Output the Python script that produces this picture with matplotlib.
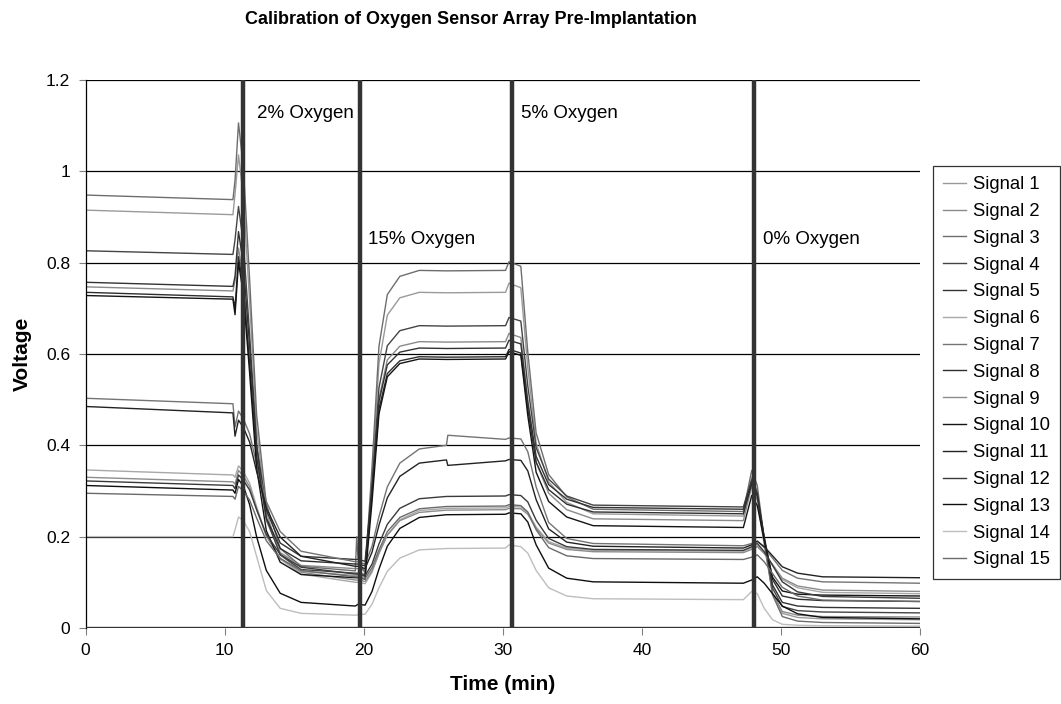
import matplotlib
matplotlib.use("Agg")
import matplotlib.pyplot as plt

plt.rcParams["font.family"] = ["Liberation Sans", "DejaVu Sans"]

# sample times (min) shared by all 15 sensor traces
time_min = [0.0, 10.6, 10.75, 11.0, 11.35, 11.8, 12.3, 13.0, 14.0, 15.5,
            19.4, 19.5, 19.6, 20.1, 20.6, 21.1, 21.7, 22.6, 24.0, 25.95,
            26.05, 30.2, 30.45, 31.3, 31.8, 32.4, 33.3, 34.6, 36.5, 47.3,
            47.9, 48.3, 48.8, 49.4, 50.1, 51.2, 53.0, 60.0]

signal_1 = [0.915, 0.905, 0.95, 1.036, 0.944, 0.714, 0.437, 0.253, 0.161, 0.124,
            0.115, 0.115, 0.115, 0.112, 0.330, 0.579, 0.685, 0.723, 0.735, 0.734,
            0.734, 0.735, 0.755, 0.745, 0.570, 0.405, 0.320, 0.275, 0.250, 0.245,
            0.330, 0.299, 0.190, 0.076, 0.032, 0.023, 0.020, 0.018]
signal_2 = [0.747, 0.738, 0.76, 0.832, 0.762, 0.586, 0.376, 0.235, 0.165, 0.137,
            0.130, 0.130, 0.130, 0.126, 0.301, 0.502, 0.587, 0.617, 0.627, 0.626,
            0.626, 0.627, 0.645, 0.636, 0.496, 0.363, 0.295, 0.259, 0.239, 0.235,
            0.310, 0.281, 0.182, 0.076, 0.036, 0.028, 0.025, 0.024]
signal_3 = [0.948, 0.938, 0.98, 1.106, 1.008, 0.763, 0.468, 0.272, 0.174, 0.135,
            0.125, 0.200, 0.150, 0.120, 0.352, 0.617, 0.730, 0.770, 0.783, 0.782,
            0.782, 0.783, 0.802, 0.792, 0.604, 0.427, 0.336, 0.287, 0.260, 0.255,
            0.345, 0.312, 0.195, 0.072, 0.025, 0.015, 0.012, 0.010]
signal_4 = [0.826, 0.818, 0.85, 0.923, 0.843, 0.642, 0.401, 0.240, 0.160, 0.128,
            0.120, 0.120, 0.120, 0.117, 0.308, 0.526, 0.618, 0.651, 0.662, 0.661,
            0.661, 0.662, 0.680, 0.672, 0.530, 0.395, 0.326, 0.289, 0.269, 0.265,
            0.325, 0.296, 0.194, 0.087, 0.047, 0.038, 0.035, 0.033]
signal_5 = [0.757, 0.748, 0.77, 0.868, 0.796, 0.617, 0.401, 0.258, 0.186, 0.157,
            0.150, 0.150, 0.150, 0.146, 0.309, 0.496, 0.576, 0.604, 0.613, 0.612,
            0.612, 0.613, 0.630, 0.622, 0.495, 0.376, 0.314, 0.282, 0.264, 0.260,
            0.320, 0.292, 0.196, 0.094, 0.056, 0.048, 0.045, 0.043]
signal_6 = [0.346, 0.335, 0.330, 0.355, 0.342, 0.317, 0.266, 0.202, 0.151, 0.118,
            0.100, 0.100, 0.100, 0.097, 0.122, 0.163, 0.204, 0.237, 0.257, 0.262,
            0.262, 0.263, 0.266, 0.265, 0.253, 0.221, 0.189, 0.175, 0.170, 0.168,
            0.175, 0.180, 0.164, 0.138, 0.106, 0.088, 0.078, 0.075]
signal_7 = [0.503, 0.491, 0.440, 0.475, 0.458, 0.425, 0.359, 0.277, 0.211, 0.168,
            0.145, 0.145, 0.145, 0.140, 0.179, 0.244, 0.309, 0.361, 0.392, 0.400,
            0.422, 0.413, 0.416, 0.414, 0.386, 0.309, 0.231, 0.196, 0.185, 0.180,
            0.185, 0.190, 0.176, 0.153, 0.126, 0.109, 0.101, 0.098]
signal_8 = [0.735, 0.725, 0.700, 0.813, 0.746, 0.577, 0.376, 0.241, 0.174, 0.147,
            0.140, 0.140, 0.140, 0.136, 0.296, 0.480, 0.557, 0.585, 0.594, 0.593,
            0.593, 0.594, 0.610, 0.602, 0.479, 0.363, 0.303, 0.271, 0.254, 0.250,
            0.315, 0.289, 0.200, 0.106, 0.070, 0.063, 0.060, 0.058]
signal_9 = [0.330, 0.320, 0.315, 0.345, 0.333, 0.309, 0.261, 0.201, 0.153, 0.122,
            0.105, 0.105, 0.105, 0.102, 0.125, 0.164, 0.203, 0.235, 0.253, 0.258,
            0.258, 0.259, 0.262, 0.261, 0.249, 0.218, 0.186, 0.172, 0.167, 0.165,
            0.172, 0.178, 0.163, 0.139, 0.109, 0.092, 0.083, 0.080]
signal_10 = [0.728, 0.720, 0.686, 0.800, 0.731, 0.558, 0.351, 0.213, 0.144, 0.117,
             0.110, 0.110, 0.110, 0.107, 0.276, 0.469, 0.550, 0.579, 0.589, 0.588,
             0.588, 0.589, 0.605, 0.597, 0.465, 0.341, 0.277, 0.243, 0.224, 0.220,
             0.290, 0.268, 0.192, 0.111, 0.081, 0.074, 0.072, 0.070]
signal_11 = [0.485, 0.471, 0.420, 0.455, 0.439, 0.407, 0.343, 0.263, 0.199, 0.157,
             0.135, 0.135, 0.135, 0.130, 0.166, 0.225, 0.285, 0.332, 0.361, 0.368,
             0.356, 0.366, 0.369, 0.367, 0.344, 0.281, 0.217, 0.188, 0.179, 0.175,
             0.182, 0.190, 0.178, 0.158, 0.134, 0.120, 0.112, 0.110]
signal_12 = [0.322, 0.312, 0.305, 0.335, 0.324, 0.302, 0.259, 0.205, 0.161, 0.133,
             0.118, 0.118, 0.118, 0.114, 0.140, 0.184, 0.227, 0.262, 0.283, 0.288,
             0.288, 0.289, 0.292, 0.290, 0.276, 0.236, 0.196, 0.178, 0.172, 0.170,
             0.178, 0.185, 0.167, 0.137, 0.101, 0.079, 0.069, 0.065]
signal_13 = [0.312, 0.302, 0.295, 0.325, 0.311, 0.270, 0.200, 0.126, 0.076, 0.056,
             0.048, 0.050, 0.052, 0.050, 0.080, 0.129, 0.179, 0.218, 0.242, 0.248,
             0.248, 0.249, 0.252, 0.250, 0.232, 0.182, 0.131, 0.109, 0.101, 0.098,
             0.105, 0.112, 0.098, 0.075, 0.048, 0.031, 0.023, 0.020]
signal_14 = [0.200, 0.200, 0.215, 0.243, 0.235, 0.211, 0.157, 0.082, 0.043, 0.032,
             0.028, 0.028, 0.030, 0.030, 0.052, 0.088, 0.124, 0.153, 0.171, 0.174,
             0.174, 0.175, 0.182, 0.178, 0.164, 0.126, 0.088, 0.070, 0.064, 0.062,
             0.080, 0.075, 0.043, 0.018, 0.008, 0.006, 0.005, 0.004]
signal_15 = [0.295, 0.288, 0.282, 0.310, 0.300, 0.280, 0.241, 0.191, 0.152, 0.126,
             0.112, 0.112, 0.112, 0.108, 0.132, 0.171, 0.211, 0.242, 0.261, 0.266,
             0.266, 0.267, 0.270, 0.268, 0.254, 0.215, 0.176, 0.158, 0.152, 0.150,
             0.155, 0.160, 0.145, 0.119, 0.089, 0.070, 0.061, 0.058]

signals = [signal_1, signal_2, signal_3, signal_4, signal_5, signal_6, signal_7,
           signal_8, signal_9, signal_10, signal_11, signal_12, signal_13,
           signal_14, signal_15]
signal_names = [f"Signal {i}" for i in range(1, 16)]
signal_colors = ["#9a9a9a", "#8a8a8a", "#6e6e6e", "#444444", "#333333",
                 "#a8a8a8", "#747474", "#2e2e2e", "#8c8c8c", "#141414",
                 "#222222", "#3a3a3a", "#0e0e0e", "#bdbdbd", "#6a6a6a"]

# gas switch times and the concentration applied after each one
switch_times = [11.35, 19.7, 30.65, 48.1]
phase_labels = ["2% Oxygen", "15% Oxygen", "5% Oxygen", "0% Oxygen"]
label_x = [12.3, 20.3, 31.3, 48.7]
label_y = [1.127, 0.85, 1.127, 0.85]

fig = plt.figure(figsize=(10.61, 7.04), dpi=100)
ax = fig.add_axes([0.0806, 0.108, 0.7865, 0.7784])

for vals, name, col in zip(signals, signal_names, signal_colors):
    ax.plot(time_min, vals, color=col, linewidth=1.0, label=name)

ax.vlines(switch_times, 0, 1.2, color="#333333", linewidth=3.2, zorder=5)
ax.axhline(0, color="#333333", linewidth=2.4, zorder=5)

for txt, x, y in zip(phase_labels, label_x, label_y):
    ax.text(x, y, txt, fontsize=13.5, va="center", ha="left", color="black")

ax.set_xlim(0, 60)
ax.set_ylim(0, 1.2)
ax.set_xticks(range(0, 61, 10))
ax.set_yticks([0, 0.2, 0.4, 0.6, 0.8, 1.0, 1.2])
ax.set_yticklabels(["0", "0.2", "0.4", "0.6", "0.8", "1", "1.2"])
ax.yaxis.grid(True, color="black", linewidth=0.9)
ax.set_axisbelow(True)
for side in ["top", "right", "bottom"]:
    ax.spines[side].set_visible(False)
ax.spines["left"].set_color("black")
ax.spines["left"].set_linewidth(0.9)
ax.tick_params(axis="both", direction="out", length=5, color="#808080",
               labelsize=12.5, pad=6)

ax.set_xlabel("Time (min)", fontsize=15, fontweight="bold", labelpad=12)
ax.set_ylabel("Voltage", fontsize=15, fontweight="bold", labelpad=10)

fig.text(0.444, 0.972, "Calibration of Oxygen Sensor Array Pre-Implantation",
         fontsize=13, fontweight="bold", ha="center", va="center")

leg = fig.legend(loc="upper left", bbox_to_anchor=(0.879, 0.764),
                 fontsize=13.3, frameon=True, fancybox=False, borderaxespad=0,
                 handlelength=1.25, handletextpad=0.4, labelspacing=0.53,
                 borderpad=0.55)
leg.get_frame().set_edgecolor("black")
leg.get_frame().set_linewidth(0.9)

fig.savefig("out.png", dpi=100)
